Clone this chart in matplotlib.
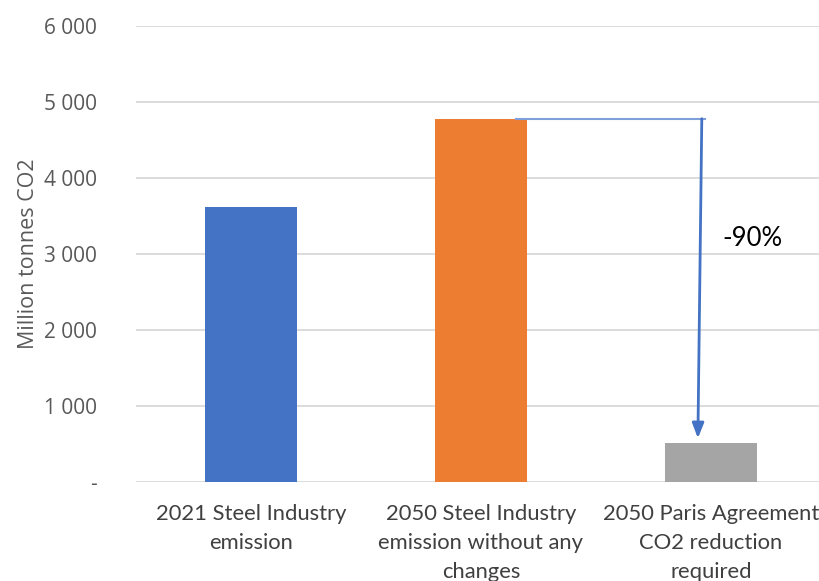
import matplotlib
matplotlib.use("Agg")
import matplotlib.pyplot as plt
from matplotlib.ticker import FixedLocator, FixedFormatter

# Emission data (million tonnes CO2)
categories = [
    "2021 Steel Industry\nemission",
    "2050 Steel Industry\nemission without any\nchanges",
    "2050 Paris Agreement\nCO2 reduction\nrequired",
]
values = [3620, 4780, 515]
colors = ["#4472C4", "#ED7D31", "#A5A5A5"]
ytick_values = [0, 1000, 2000, 3000, 4000, 5000, 6000]
ytick_labels = ["-", "1 000", "2 000", "3 000", "4 000", "5 000", "6 000"]
reduction_label = "-90%"

W, H = 819, 581
fig = plt.figure(figsize=(W / 100, H / 100), dpi=100)
left, right, bottom, top = 136, 819, 482, 26
ax = fig.add_axes([left / W, (H - bottom) / H, (right - left) / W, (bottom - top) / H])

x = list(range(len(categories)))
ax.bar(x, values, width=0.4, color=colors, zorder=3)

ax.set_ylim(0, 6000)
ax.set_xlim(-0.5, -0.5 + (right - left) / 230)

ax.yaxis.set_major_locator(FixedLocator(ytick_values))
ax.yaxis.set_major_formatter(FixedFormatter(ytick_labels))
ax.grid(axis="y", color="#D9D9D9", linewidth=1.3, zorder=0)
ax.set_axisbelow(True)
for s in ax.spines.values():
    s.set_visible(False)
ax.tick_params(axis="both", length=0)
ax.tick_params(axis="y", pad=28, labelsize=15, labelcolor="#595959")
for t in ax.get_yticklabels():
    t.set_fontfamily(["Open Sans", "DejaVu Sans"])

ax.set_xticks(x)
ax.set_xticklabels(categories, fontsize=15.8, color="#404040",
                   family=["Lato", "DejaVu Sans"], linespacing=1.56)
ax.tick_params(axis="x", pad=16)

ax.set_ylabel("Million tonnes CO2", fontsize=15.5, color="#595959",
              family=["Open Sans", "DejaVu Sans"], labelpad=4)

# Reduction arrow: from the top of the 2050 bar to the Paris target bar
x_arrow = 2 - 0.04
ax.plot([1 + 0.15, x_arrow + 0.015], [values[1], values[1]],
        color="#7F9FDA", linewidth=1.5, zorder=4)
ax.annotate("", xy=(x_arrow - 0.017, values[2] + 60), xytext=(x_arrow, values[1]),
            arrowprops=dict(arrowstyle="-|>,head_length=0.9,head_width=0.35",
                            color="#4472C4", linewidth=2, shrinkA=0, shrinkB=0),
            zorder=5)
ax.text(x_arrow + 0.09, 3200, reduction_label, fontsize=18.5,
        family=["Lato", "DejaVu Sans"], color="#000000", va="center", ha="left")

fig.savefig("out.png", dpi=100)
